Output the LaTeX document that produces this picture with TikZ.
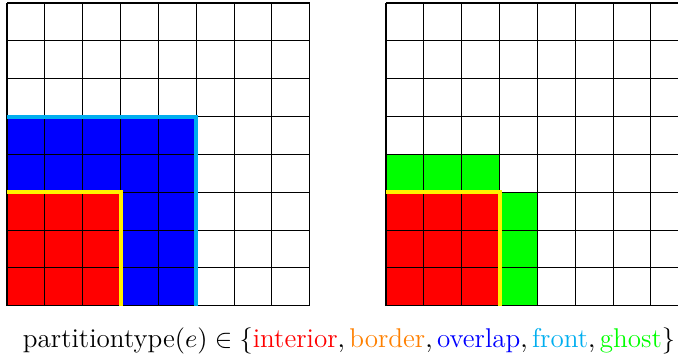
\documentclass[tikz,border=0pt]{standalone}
\definecolor{frontcyan}{RGB}{0,174,239}
\definecolor{borderorange}{RGB}{255,128,0}
\tikzset{
  gridline/.style={draw=black, line width=0.45pt},
  frontline/.style={draw=frontcyan, line width=1.7pt},
  borderline/.style={draw=yellow, line width=1.7pt},
  cellgrid/.style={x=15.772pt, y=-15.772pt}
}
\begin{document}
\begin{tikzpicture}[x=0.4167pt,y=-0.4167pt]
\useasboundingbox (0,0) rectangle (678,361);
% left grid
\begin{scope}[xshift=2.917pt, yshift=-1.25pt, cellgrid]
  \fill[blue] (0,3) rectangle (5,8);
  \fill[red] (0,5) rectangle (3,8);
  \foreach \i in {0,...,8} {
    \draw[gridline] (\i,0) -- (\i,8);
    \draw[gridline] (0,\i) -- (8,\i);
  }
  \draw[frontline] (0,3) -- (5,3) -- (5,8);
  \draw[borderline] (0,5) -- (3,5) -- (3,8);
\end{scope}
% right grid
\begin{scope}[xshift=160.85pt, yshift=-1.25pt, cellgrid]
  \fill[green] (0,4) rectangle (3,5);
  \fill[green] (3,5) rectangle (4,8);
  \fill[red] (0,5) rectangle (3,8);
  \foreach \i in {0,...,8} {
    \draw[gridline] (\i,0) -- (\i,8);
    \draw[gridline] (0,\i) -- (8,\i);
  }
  \draw[borderline] (0,5) -- (3,5) -- (3,8);
\end{scope}
\node[anchor=base, inner sep=0pt, font=\fontsize{11.3}{13.5}\selectfont] (caption) at (349,347)
  {$\mbox{partitiontype}(e) \in \{\textcolor{red}{\mbox{interior}},
  \textcolor{borderorange}{\mbox{border}},
  \textcolor{blue}{\mbox{overlap}},
  \textcolor{frontcyan}{\mbox{front}},
  \textcolor{green}{\mbox{ghost}}\}$};
\end{tikzpicture}
\end{document}
